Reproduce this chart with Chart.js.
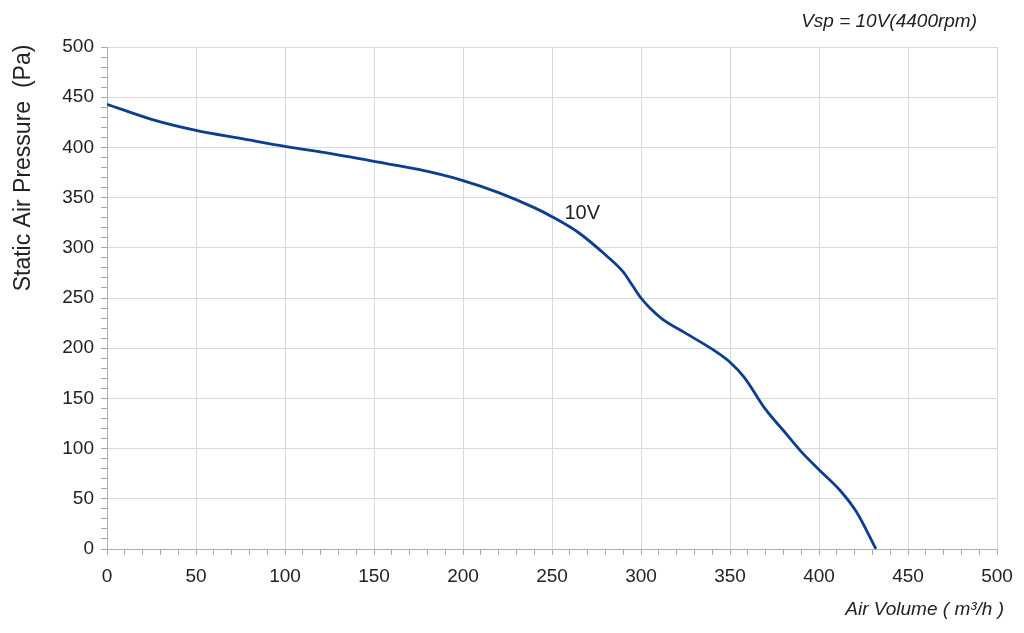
<!DOCTYPE html>
<html lang="en">
<head>
<meta charset="UTF-8">
<title>Fan curve</title>
<style>
  html, body { margin: 0; padding: 0; background: #fff; }
  #wrap { width: 1024px; height: 633px; }
</style>
</head>
<body>
<div id="wrap"><canvas id="fanChart" width="1024" height="633"></canvas></div>
<script src="https://cdn.jsdelivr.net/npm/chart.js"></script>
<script>
// curve: air volume (m3/h) vs static pressure (Pa)
const airVolume = [0, 25, 50, 75, 100, 125, 150, 175, 200, 220, 240, 250, 265, 280, 290, 295, 300, 305, 312, 325, 340, 350, 358, 370, 380, 390, 400, 412, 421, 432];
const pressure  = [443, 428, 417, 409, 401, 394, 386, 378, 367, 355, 340, 331, 315, 293, 276, 263, 250, 240, 229, 215, 199, 186, 171, 139, 118, 97, 79, 58, 37, 0];
const curveName = '10V';
const chartTitle = 'Vsp = 10V(4400rpm)';
const xTitle = 'Air Volume ( m\u00b3/h )';
const yTitle = 'Static Air Pressure  (Pa)';

const FONT = '"Liberation Sans", Arial, sans-serif';
const points = airVolume.map((v, i) => ({ x: v, y: pressure[i] }));

// texts placed like the reference (outside the normal title boxes)
const textPlugin = {
    id: 'texts',
    afterDraw(chart) {
        const ctx = chart.ctx;
        const xs = chart.scales.x, ys = chart.scales.y;
        ctx.save();
        ctx.fillStyle = '#222';
        ctx.font = 'italic 19px ' + FONT;
        ctx.textAlign = 'right';
        ctx.textBaseline = 'middle';
        ctx.fillText(chartTitle, 977, 22);
        ctx.fillText(xTitle, 1004, 610);
        // curve label next to the line
        ctx.font = '20px ' + FONT;
        ctx.textAlign = 'left';
        ctx.fillText(curveName, xs.getPixelForValue(257), ys.getPixelForValue(334));
        // rotated y title
        ctx.translate(24, 168);
        ctx.rotate(-Math.PI / 2);
        ctx.textAlign = 'center';
        ctx.font = '23px ' + FONT;
        ctx.fillText(yTitle, 0, 0);
        ctx.restore();
    }
};

const major = v => v % 50 === 0;

new Chart(document.getElementById('fanChart'), {
    type: 'line',
    data: {
        datasets: [{
            label: curveName,
            data: points,
            borderColor: '#0b3e8f',
            borderWidth: 2.8,
            pointRadius: 0,
            fill: false,
            cubicInterpolationMode: 'monotone'
        }]
    },
    options: {
        responsive: false,
        animation: false,
        layout: { padding: { left: 0, top: 47, right: 27, bottom: 34 } },
        plugins: { legend: { display: false }, tooltip: { enabled: false } },
        scales: {
            x: {
                type: 'linear',
                min: 0, max: 500,
                afterFit: s => { s.height = 50; },
                border: { color: '#b0b0b0' },
                grid: {
                    color: c => major(c.tick.value) ? '#d9d9d9' : 'rgba(0,0,0,0)',
                    tickColor: '#a8a8a8',
                    tickLength: 6
                },
                ticks: {
                    stepSize: 10,
                    autoSkip: false,
                    maxRotation: 0,
                    padding: 10,
                    color: '#222',
                    font: { family: FONT, size: 19 },
                    callback: v => major(v) ? String(v) : ''
                }
            },
            y: {
                min: 0, max: 500,
                afterFit: s => { s.width = 107; },
                border: { color: '#b0b0b0' },
                grid: {
                    color: c => major(c.tick.value) ? '#d9d9d9' : 'rgba(0,0,0,0)',
                    tickColor: '#a8a8a8',
                    tickLength: 6
                },
                ticks: {
                    stepSize: 10,
                    autoSkip: false,
                    padding: 7,
                    color: '#222',
                    font: { family: FONT, size: 19 },
                    callback: v => major(v) ? String(v) : ''
                }
            }
        }
    },
    plugins: [textPlugin]
});
</script>
</body>
</html>
